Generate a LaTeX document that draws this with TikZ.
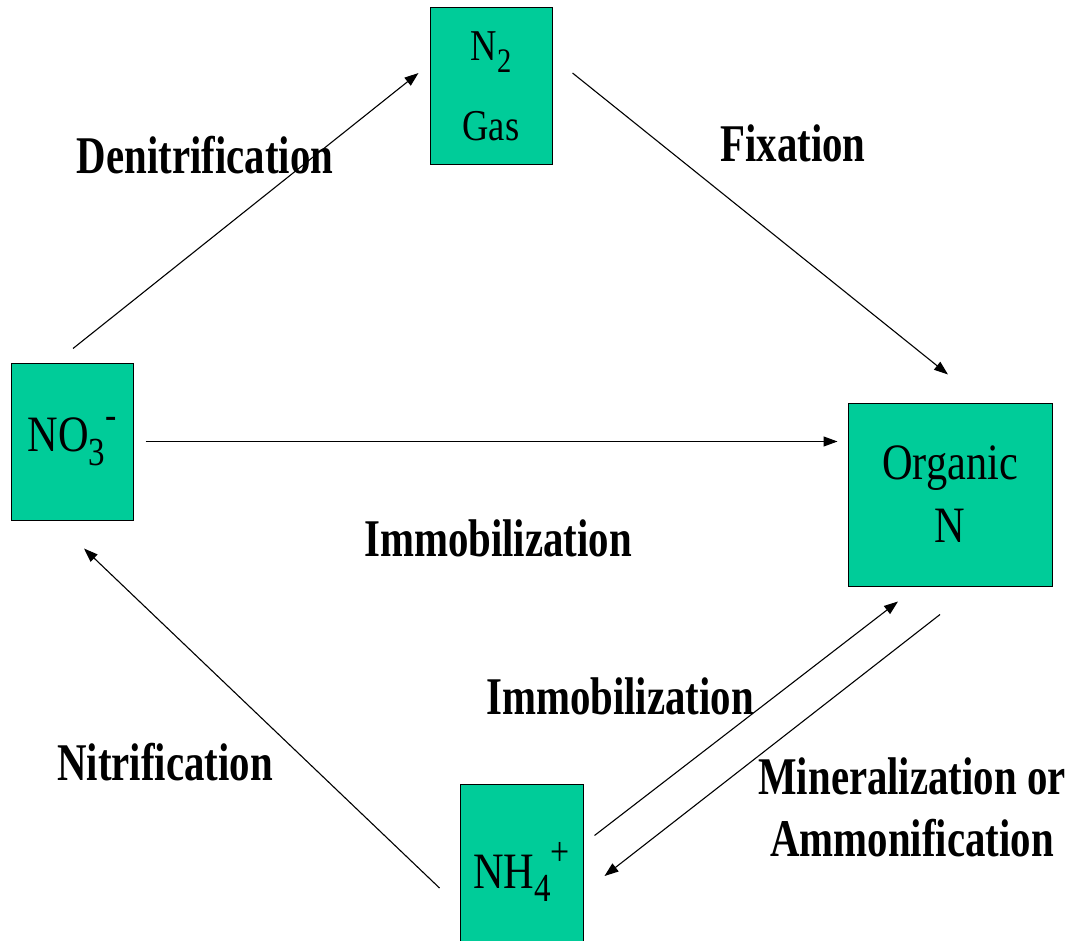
\documentclass[tikz,border=0pt]{standalone}
\usepackage{fontspec}
\setmainfont{Liberation Serif}[FakeStretch=0.83]
\newfontfamily\procfont{Liberation Serif}[FakeStretch=0.77]
\usepackage{graphicx}
\usetikzlibrary{arrows.meta}
\definecolor{poolgreen}{RGB}{0,204,153}
\newcommand{\chemsub}[1]{\raisebox{-0.27em}{\scalebox{0.78}{#1}}}
\newcommand{\chemsup}[1]{\raisebox{0.45em}{\scalebox{0.8}{#1}}}

\begin{document}
\begin{tikzpicture}[x=1pt,y=-1pt,
    pool/.style={draw,line width=1pt,fill=poolgreen,inner sep=0pt,align=center,font=\fontsize{51}{63}\selectfont},
    process/.style={inner sep=0pt,align=center,font=\procfont\fontsize{53}{62}\selectfont\bfseries},
    arr/.style={-{Triangle[length=14pt,width=10pt]},line width=1.1pt}]
  \useasboundingbox (0,0) rectangle (1073,941);
  % pools
  \node[pool,minimum width=122,minimum height=157,font=\fontsize{44}{80}\selectfont] (n2) at (491,86.5) {N\chemsub{2}\\Gas};
  \node[pool,minimum width=122,minimum height=157] (no3) at (72,441.5) {NO\chemsub{3}\chemsup{-}};
  \node[pool,minimum width=204,minimum height=183] (org) at (950,494.5) {Organic\\N};
  \node[pool,minimum width=123,minimum height=176] (nh4) at (521.5,872) {\raisebox{14pt}{NH\chemsub{4}\chemsup{+}}};
  % processes
  \node[process] (denit) at (205,155) {Denitrification};
  \node[process] (fix) at (793,143) {Fixation};
  \node[process] (immob) at (498,538) {Immobilization};
  \node[process] (immob2) at (620,696) {Immobilization};
  \node[process] (nitr) at (165,762) {Nitrification};
  \node[process] (miner) at (912,807) {Mineralization or\\Ammonification};
  % flows
  \draw[arr] ([shift={(1,-14)}]no3.north) -- ([shift={(-11,-13.5)}]n2.west);
  \draw[arr] ([shift={(20,-13.5)}]n2.east) -- ([shift={(-2,-28)}]org.north);
  \draw[arr,shorten <=12pt,shorten >=10pt] (no3.east) -- (no3.east -| org.west);
  \draw[arr] ([shift={(11,52)}]nh4.north east) -- ([shift={(-52,15)}]org.south);
  \draw[arr] ([shift={(-10,28)}]org.south) -- ([shift={(21,4)}]nh4.east);
  \draw[arr] ([shift={(-20,16)}]nh4.west) -- ([shift={(12,28)}]no3.south);
\end{tikzpicture}
\end{document}
